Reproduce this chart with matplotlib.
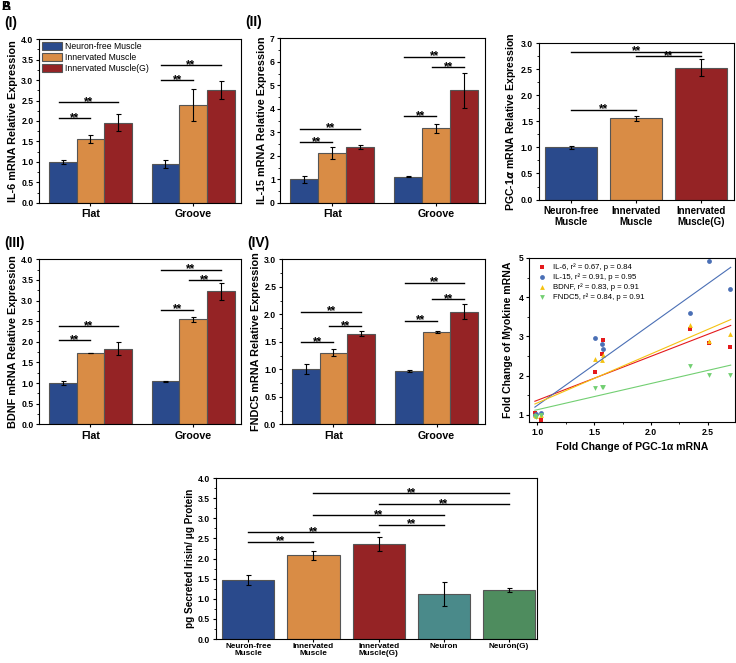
import numpy as np
import matplotlib
matplotlib.use("Agg")
from matplotlib import pyplot as plt
from matplotlib.ticker import AutoMinorLocator, MultipleLocator

plt.rcParams['font.family'] = ['Liberation Sans', 'DejaVu Sans']
plt.rcParams['font.weight'] = 'bold'
plt.rcParams['axes.labelweight'] = 'bold'

# ---- data ----
groups = ["Flat", "Groove"]
series_names = ["Neuron-free Muscle", "Innervated Muscle", "Innervated Muscle(G)"]
colors = ["#2a4a8c", "#d98c45", "#952325"]

il6_mean = [[1.00, 1.56, 1.96], [0.95, 2.39, 2.75]]
il6_err = [[0.05, 0.09, 0.20], [0.10, 0.38, 0.22]]
il6_sig = [(0, 0, 1, 2.07), (0, 0, 2, 2.46), (1, 0, 1, 2.99), (1, 0, 2, 3.36)]

il15_mean = [[1.00, 2.11, 2.39], [1.12, 3.17, 4.80]]
il15_err = [[0.15, 0.26, 0.08], [0.03, 0.18, 0.75]]
il15_sig = [(0, 0, 1, 2.59), (0, 0, 2, 3.15), (1, 0, 1, 3.69), (1, 1, 2, 5.78), (1, 0, 2, 6.21)]

bdnf_mean = [[1.00, 1.73, 1.83], [1.04, 2.55, 3.22]]
bdnf_err = [[0.04, 0.01, 0.16], [0.01, 0.06, 0.20]]
bdnf_sig = [(0, 0, 1, 2.04), (0, 0, 2, 2.38), (1, 0, 1, 2.78), (1, 1, 2, 3.49), (1, 0, 2, 3.75)]

fndc5_mean = [[1.00, 1.30, 1.65], [0.97, 1.68, 2.05]]
fndc5_err = [[0.09, 0.06, 0.04], [0.02, 0.02, 0.14]]
fndc5_sig = [(0, 0, 1, 1.49), (0, 1, 2, 1.78), (0, 0, 2, 2.05), (1, 0, 1, 1.88), (1, 1, 2, 2.27), (1, 0, 2, 2.57)]

pgc_labels = ["Neuron-free\nMuscle", "Innervated\nMuscle", "Innervated\nMuscle(G)"]
pgc_mean = [1.00, 1.56, 2.53]
pgc_err = [0.03, 0.05, 0.17]
pgc_sig = [(0, 1, 1.72), (1, 2, 2.75), (0, 2, 2.83)]

# correlation: PGC-1a fold change per sample vs myokine fold change
pgc_x = [0.98, 0.99, 1.03, 1.51, 1.57, 1.58, 2.34, 2.51, 2.69]
il6_y = [1.06, 1.00, 0.87, 2.10, 2.55, 2.92, 3.18, 2.84, 2.72]
il15_y = [1.00, 1.02, 1.04, 2.97, 2.81, 2.67, 3.60, 4.92, 4.22]
bdnf_y = [1.00, 0.98, 1.00, 2.42, 2.40, 2.52, 3.29, 2.89, 3.06]
fndc5_y = [0.98, 0.96, 1.00, 1.68, 1.72, 1.72, 2.25, 2.02, 2.02]
fit_x = [0.98, 2.70]
il6_fit = [1.35, 3.28]
il15_fit = [1.20, 4.76]
bdnf_fit = [1.28, 3.43]
fndc5_fit = [1.12, 2.27]
corr_labels = ["IL-6, r\u00b2 = 0.67, p = 0.84", "IL-15, r\u00b2 = 0.91, p = 0.95",
               "BDNF, r\u00b2 = 0.83, p = 0.91", "FNDC5, r\u00b2 = 0.84, p = 0.91"]
corr_colors = ["#e41a1c", "#4a6fb5", "#f5c211", "#72cf72"]
corr_markers = ["s", "o", "^", "v"]

irisin_labels = ["Neuron-free\nMuscle", "Innervated\nMuscle", "Innervated\nMuscle(G)", "Neuron", "Neuron(G)"]
irisin_mean = [1.46, 2.08, 2.36, 1.12, 1.23]
irisin_err = [0.12, 0.11, 0.18, 0.29, 0.05]
irisin_colors = ["#2a4a8c", "#d98c45", "#952325", "#4a8a8a", "#4e8c5e"]
irisin_sig = [(0, 1, 2.42), (0, 2, 2.65), (2, 3, 2.84), (1, 3, 3.08), (2, 4, 3.35), (1, 4, 3.62)]

fig = plt.figure(figsize=(7.36, 6.63), dpi=100)

TICK = 6.2
EDGE = "#555555"


def style_axes(ax, xsize, xpad=2):
    ax.tick_params(axis='y', labelsize=TICK, width=0.8, length=2.5, direction='out', pad=1.5)
    ax.tick_params(axis='x', labelsize=xsize, width=0.8, length=2.5, direction='out', pad=xpad)
    ax.tick_params(axis='y', which='minor', length=1.5, width=0.6)
    for s in ax.spines.values():
        s.set_linewidth(0.8)
    for lab in ax.get_xticklabels() + ax.get_yticklabels():
        lab.set_fontweight('bold')


def sig_line(ax, x1, x2, y):
    ax.plot([x1, x2], [y, y], color='black', lw=1.0)
    ax.annotate("**", ((x1 + x2) / 2, y), xytext=(0, -1.9), textcoords='offset points',
                ha='center', va='baseline', fontsize=8.5, fontweight='bold')


def grouped(rect, mean, err, sig, ylim, ystep, ylabel, tag, legend=False):
    ax = fig.add_axes(rect)
    w = 0.27
    x = np.arange(len(groups))
    for k in range(3):
        vals = [m[k] for m in mean]
        es = [e[k] for e in err]
        ax.bar(x + (k - 1) * w, vals, w, color=colors[k], edgecolor=EDGE, lw=0.8,
               yerr=es, capsize=1.8, error_kw=dict(lw=0.8, capthick=0.8), label=series_names[k])
    for g, a, b, y in sig:
        sig_line(ax, g + (a - 1) * w - 0.04, g + (b - 1) * w, y)
    ax.set_xlim(-0.5, 1.47)
    ax.set_ylim(*ylim)
    ax.set_xticks(x)
    ax.set_xticklabels(groups)
    ax.yaxis.set_major_locator(MultipleLocator(ystep))
    ax.yaxis.set_minor_locator(AutoMinorLocator(2))
    ax.set_ylabel(ylabel, fontsize=7.8, labelpad=2)
    style_axes(ax, 7.7)
    ax.text(-0.17, 1.14, tag, transform=ax.transAxes, fontsize=10, fontweight='bold', va='top')
    if legend:
        ax.legend(loc='upper left', frameon=False, handlelength=2.3, handleheight=1.1,
                  borderaxespad=0.1, borderpad=0.25, labelspacing=0.2, handletextpad=0.4,
                  prop=dict(size=6.2, weight='normal'))
    return ax


grouped([0.053, 0.694, 0.275, 0.247], il6_mean, il6_err, il6_sig, (0, 4), 0.5,
        "IL-6 mRNA Relative Expression", "(I)", legend=True)
grouped([0.381, 0.694, 0.278, 0.248], il15_mean, il15_err, il15_sig, (0, 7), 1,
        "IL-15 mRNA Relative Expression", "(II)")
grouped([0.053, 0.360, 0.275, 0.249], bdnf_mean, bdnf_err, bdnf_sig, (0, 4), 0.5,
        "BDNF mRNA Relative Expression", "(III)")
grouped([0.383, 0.360, 0.276, 0.249], fndc5_mean, fndc5_err, fndc5_sig, (0, 3), 0.5,
        "FNDC5 mRNA Relative Expression", "(IV)")

# PGC-1a panel
ax = fig.add_axes([0.732, 0.699, 0.265, 0.236])
xp = np.arange(3)
ax.bar(xp, pgc_mean, 0.8, color=colors, edgecolor=EDGE, lw=0.8, yerr=pgc_err, capsize=1.8,
       error_kw=dict(lw=0.8, capthick=0.8))
for a, b, y in pgc_sig:
    sig_line(ax, a, b, y)
ax.set_xlim(-0.5, 2.5)
ax.set_ylim(0, 3)
ax.set_xticks(xp)
ax.set_xticklabels(pgc_labels)
ax.yaxis.set_major_locator(MultipleLocator(0.5))
ax.yaxis.set_minor_locator(AutoMinorLocator(2))
ax.set_ylabel("PGC-1$\\alpha$ mRNA Relative Expression", fontsize=7.6, labelpad=2)
style_axes(ax, 7)

# correlation panel
ax = fig.add_axes([0.719, 0.364, 0.280, 0.247])
ys = [il6_y, il15_y, bdnf_y, fndc5_y]
fits = [il6_fit, il15_fit, bdnf_fit, fndc5_fit]
for yv, fv, c, m, lab in zip(ys, fits, corr_colors, corr_markers, corr_labels):
    ax.scatter(pgc_x, yv, s=12, color=c, marker=m, label=lab, lw=0)
    ax.plot(fit_x, fv, color=c, lw=0.8)
ax.set_xlim(0.93, 2.74)
ax.set_ylim(0.83, 5)
ax.xaxis.set_major_locator(MultipleLocator(0.5))
ax.xaxis.set_minor_locator(AutoMinorLocator(2))
ax.yaxis.set_major_locator(MultipleLocator(1))
ax.yaxis.set_minor_locator(AutoMinorLocator(2))
ax.set_xlabel("Fold Change of PGC-1\u03b1 mRNA", fontsize=7.6, labelpad=4)
ax.set_ylabel("Fold Change of Myokine mRNA", fontsize=7.6, labelpad=4)
style_axes(ax, TICK)
ax.tick_params(axis='x', which='minor', length=1.5, width=0.6)
ax.legend(loc='upper left', frameon=False, prop=dict(size=5.6, weight='normal'), handletextpad=0.4,
          labelspacing=0.33, borderaxespad=0.35, borderpad=0.3, markerscale=1.0)

# irisin panel
ax = fig.add_axes([0.293, 0.036, 0.436, 0.243])
xi = np.arange(len(irisin_mean))
ax.bar(xi, irisin_mean, 0.8, color=irisin_colors, edgecolor=EDGE, lw=0.8, yerr=irisin_err,
       capsize=1.8, error_kw=dict(lw=0.8, capthick=0.8))
for a, b, y in irisin_sig:
    sig_line(ax, a, b, y)
ax.set_xlim(-0.5, 4.42)
ax.set_ylim(0, 4)
ax.set_xticks(xi)
ax.set_xticklabels(irisin_labels, linespacing=1.05)
ax.yaxis.set_major_locator(MultipleLocator(0.5))
ax.yaxis.set_minor_locator(AutoMinorLocator(2))
ax.set_ylabel("pg Secreted Irisin/ \u03bcg Protein", fontsize=7.2, labelpad=2)
style_axes(ax, 5.9, xpad=0.4)

# panel letters
fig.text(0.002, 0.998, "A", fontsize=9, fontweight='bold', va='top')
fig.text(0.002, 0.998, "B", fontsize=9, fontweight='bold', va='top')

fig.savefig("out.png", dpi=100)
